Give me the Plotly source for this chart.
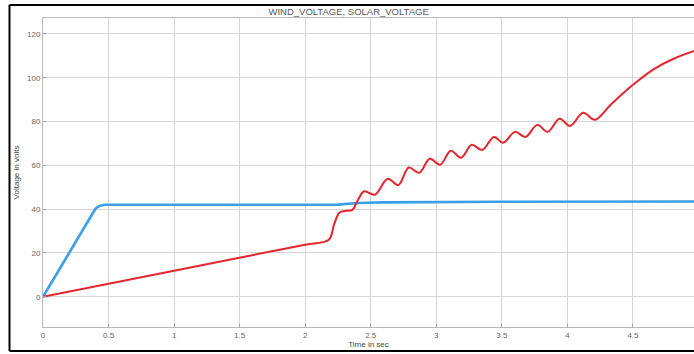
import plotly.graph_objects as go

# ---- data ----
solar_t = [0.0, 0.38, 0.40, 0.43, 0.47, 1.0, 2.25, 2.40, 2.60, 3.50, 4.97]
solar_v = [0.0, 38.8, 40.2, 41.5, 42.0, 42.0, 42.1, 42.8, 43.1, 43.4, 43.5]

wind_t = [0.0, 1.0, 2.0, 2.18, 2.22, 2.26, 2.30, 2.36, 2.40, 2.45, 2.53, 2.63, 2.71,
          2.79, 2.87, 2.95, 3.03, 3.11, 3.19, 3.27, 3.35, 3.44, 3.51, 3.60, 3.68,
          3.77, 3.85, 3.94, 4.02, 4.12, 4.21, 4.33, 4.50, 4.66, 4.81, 4.97]
wind_v = [0.0, 11.9, 23.8, 26.0, 33.0, 38.4, 39.2, 39.7, 44.0, 48.2, 46.6, 53.9, 51.0,
          59.0, 56.6, 63.0, 60.3, 66.7, 63.5, 69.4, 67.0, 73.0, 70.3, 75.3, 73.0,
          78.5, 75.3, 81.3, 78.0, 84.0, 80.8, 87.7, 96.8, 104.0, 108.7, 112.3]

x_ticks = [0, 0.5, 1, 1.5, 2, 2.5, 3, 3.5, 4, 4.5]
x_tick_text = ["0", "0.5", "1", "1.5", "2", "2.5", "3", "3.5", "4", "4.5"]
y_ticks = [0, 20, 40, 60, 80, 100, 120]

title_text = "WIND_VOLTAGE, SOLAR_VOLTAGE"
x_title = "Time in sec"
y_title = "Voltage in volts"

fig = go.Figure()
fig.add_trace(go.Scatter(x=solar_t, y=solar_v, mode="lines",
                         line=dict(color="#3A9FE6", width=2.6), showlegend=False))
fig.add_trace(go.Scatter(x=wind_t, y=wind_v, mode="lines",
                         line=dict(color="#E3262E", width=2, shape="spline", smoothing=1.0),
                         showlegend=False))

W, H = 694, 354
L, R, T, B = 43, 0, 18, 27
pw, ph = W - L - R, H - T - B

def px(x):
    return (x - L) / pw

def py(y):
    return (H - B - y) / ph

FONT = "Liberation Sans, Arial, sans-serif"
axis_common = dict(showgrid=True, gridcolor="#D6D6D6", gridwidth=1,
                   showline=True, linecolor="#B8B8B8", linewidth=1, mirror=True,
                   ticks="inside", ticklen=3, tickcolor="#A0A0A0",
                   zeroline=False,
                   tickfont=dict(family=FONT, size=8, color="#666666"))

fig.update_layout(
    width=W, height=H,
    margin=dict(l=L, r=R, t=T, b=B),
    paper_bgcolor="white", plot_bgcolor="white",
    title=dict(text=title_text, x=px(370), xanchor="center", y=1 - 12 / H, yanchor="middle",
               font=dict(family=FONT, size=9.5, color="#555555")),
    xaxis=dict(range=[0, (W - L - R) / 131.1], tickvals=x_ticks, ticktext=x_tick_text,
               title=dict(text=x_title, standoff=2, font=dict(family=FONT, size=8, color="#444444")),
               **axis_common),
    yaxis=dict(range=[-13.8, 127.3], tickvals=y_ticks,
               title=dict(text=y_title, standoff=6, font=dict(family=FONT, size=8, color="#444444")),
               **axis_common),
    shapes=[
        dict(type="line", xref="paper", yref="paper", x0=px(9.5), x1=px(9.5), y0=py(5), y1=py(351),
             line=dict(color="black", width=2)),
        dict(type="line", xref="paper", yref="paper", x0=px(9.5), x1=px(700), y0=py(5), y1=py(5),
             line=dict(color="black", width=2)),
        dict(type="line", xref="paper", yref="paper", x0=px(9.5), x1=px(700), y0=py(351), y1=py(351),
             line=dict(color="black", width=2)),
    ],
)

fig.write_html("out.html")
